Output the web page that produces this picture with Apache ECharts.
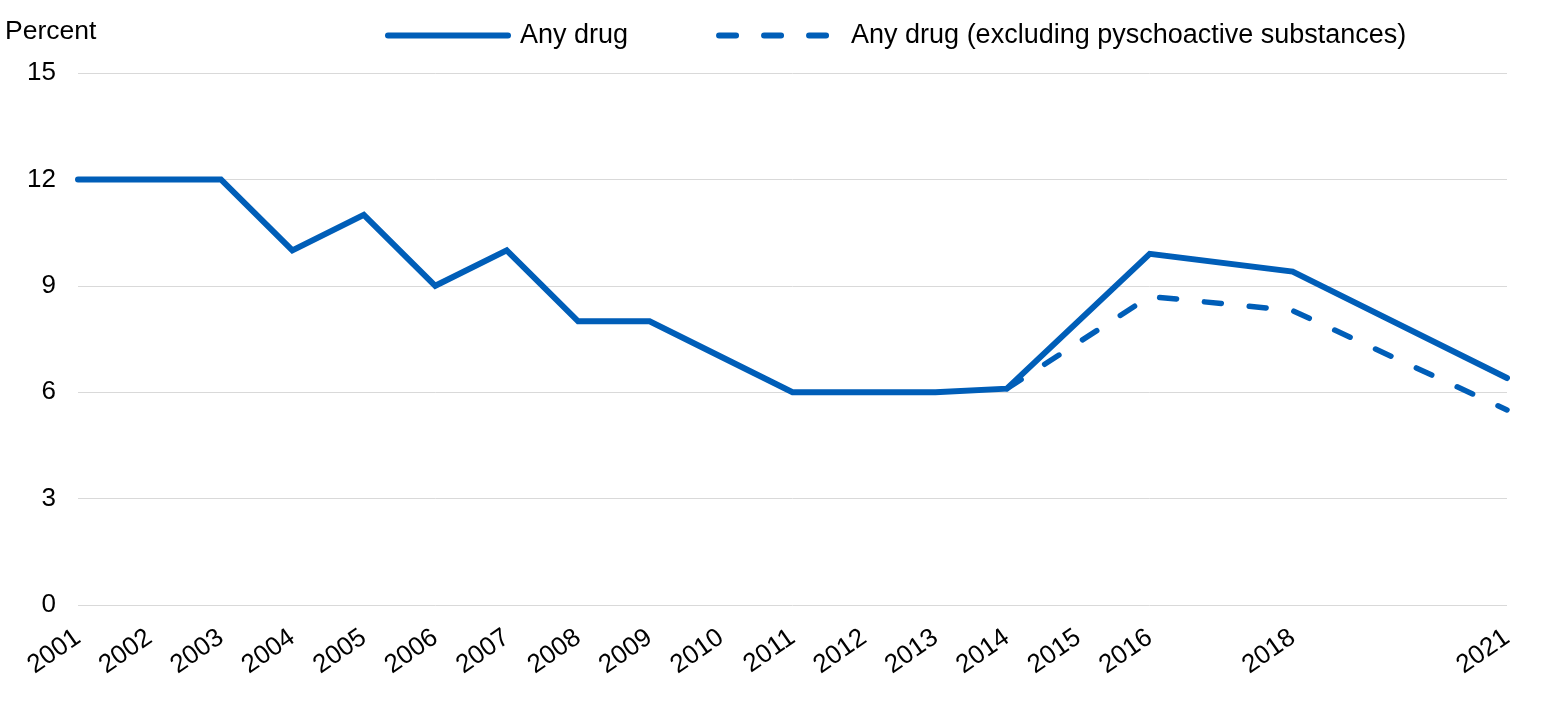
<!DOCTYPE html>
<html>
<head>
<meta charset="utf-8">
<script src="https://cdn.jsdelivr.net/npm/echarts@6/dist/echarts.min.js"></script>
<style>
html,body{margin:0;padding:0;background:#fff;}
#chart{width:1560px;height:715px;}
</style>
</head>
<body>
<div id="chart"></div>
<script>
var tickYears = [2001,2002,2003,2004,2005,2006,2007,2008,2009,2010,2011,2012,2013,2014,2015,2016,2018,2021];
var anyDrugYears = [2001,2002,2003,2004,2005,2006,2007,2008,2009,2010,2011,2012,2013,2014,2016,2018,2021];
var anyDrugValues = [12,12,12,10,11,9,10,8,8,7,6,6,6,6.1,9.9,9.4,6.4];
var exclYears = [2014,2016,2018,2021];
var exclValues = [6.1,8.7,8.3,5.5];
var yTicks = [0,3,6,9,12,15];

function pairs(xs, ys){ return xs.map(function(x,i){ return [x, ys[i]]; }); }

var FONT = 'Liberation Sans, Arial, sans-serif';
var BLUE = '#005EB8';
var chart = echarts.init(document.getElementById('chart'));
chart.setOption({
  animation: false,
  textStyle: {fontFamily: FONT, color: '#000'},
  title: {text: 'Percent', left: 0, top: 13, textStyle: {fontFamily: FONT, fontSize: 26.5, fontWeight: 'normal', color: '#000'}},
  legend: {
    left: 380, top: 17, itemWidth: 120, itemHeight: 30, itemGap: 88,
    itemStyle: {opacity: 0},
    lineStyle: {width: 6, cap: 'round'},
    textStyle: {fontFamily: FONT, fontSize: 27, color: '#000', padding: [0,0,0,7]},
    data: ['Any drug', 'Any drug (excluding pyschoactive substances)']
  },
  grid: {left: 78, right: 53, top: 73, bottom: 110},
  xAxis: {
    type: 'value', min: 2001, max: 2021, interval: 1,
    axisLine: {show: false}, axisTick: {show: false}, splitLine: {show: false},
    axisLabel: {
      rotate: 35, fontSize: 26, color: '#000', fontFamily: FONT, margin: 30,
      showMinLabel: true, showMaxLabel: true,
      formatter: function(v){ return tickYears.indexOf(v) >= 0 ? String(v) : ''; }
    }
  },
  yAxis: {
    type: 'value', min: yTicks[0], max: yTicks[yTicks.length-1], interval: 3,
    axisLine: {show: false}, axisTick: {show: false},
    splitLine: {lineStyle: {color: '#d9d9d9', width: 1}},
    axisLabel: {fontSize: 26, color: '#000', fontFamily: FONT, margin: 22}
  },
  series: [
    {
      name: 'Any drug', type: 'line', symbol: 'none',
      data: pairs(anyDrugYears, anyDrugValues),
      lineStyle: {color: BLUE, width: 6, cap: 'round', join: 'miter'},
      itemStyle: {color: BLUE}
    },
    {
      name: 'Any drug (excluding pyschoactive substances)', type: 'line', symbol: 'none',
      data: pairs(exclYears, exclValues),
      lineStyle: {color: BLUE, width: 5.5, type: [17, 28], cap: 'round'},
      itemStyle: {color: BLUE}
    }
  ]
});
</script>
</body>
</html>
